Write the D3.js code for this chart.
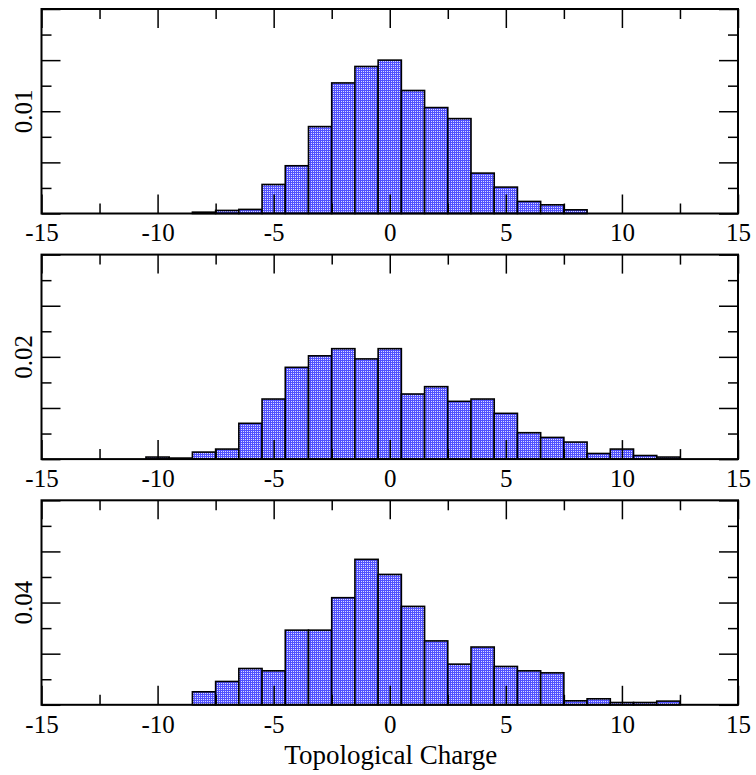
<!DOCTYPE html>
<html>
<head>
<meta charset="utf-8">
<script src="https://cdn.jsdelivr.net/npm/d3@7"></script>
<style>
html, body { margin: 0; padding: 0; background: #fff; }
svg { display: block; }
svg text { font-family: "Liberation Serif", "Times New Roman", Times, serif; }
</style>
</head>
<body>
<svg id="chart" width="756" height="775"></svg>
<script>
// ---- data ----
const charge1 = [-8,-7,-6,-5,-4,-3,-2,-1,0,1,2,3,4,5,6,7,8];
const dens1   = [0.00013,0.0003,0.0004,0.00284,0.00467,0.0085,0.01277,0.01438,0.0150,0.01203,0.01036,0.00928,0.00395,0.00258,0.00118,0.00085,0.00036];

const charge2 = [-10,-9,-8,-7,-6,-5,-4,-3,-2,-1,0,1,2,3,4,5,6,7,8,9,10,11,12];
const dens2   = [0.0004,0.0002,0.00137,0.00196,0.0070,0.01175,0.01795,0.0202,0.0216,0.0196,0.0216,0.01273,0.01417,0.0113,0.01175,0.00895,0.00516,0.00424,0.00333,0.0011,0.00196,0.0007,0.0004];

const charge3 = [-8,-7,-6,-5,-4,-3,-2,-1,0,1,2,3,4,5,6,7,8,9,10,11,12];
const dens3   = [0.00509,0.00913,0.0142,0.0133,0.0292,0.0292,0.0419,0.0569,0.051,0.0385,0.025,0.0159,0.0226,0.015,0.0133,0.0125,0.00156,0.00235,0.0009,0.0009,0.00144];

const yMax1 = 0.02, yMax2 = 0.04, yMax3 = 0.08;
const yLabel1 = [0.01], yLabel2 = [0.02], yLabel3 = [0.04];
const xMajorTicks = [-15,-10,-5,0,5,10,15];
const xMinorTicks = [-12.5,-7.5,-2.5,2.5,7.5,12.5];
const xTitle = "Topological Charge";

// ---- layout ----
const svg = d3.select("#chart");
const FONT = "'Liberation Serif','Times New Roman',Times,serif";
const left = 41.5, right = 738;
const panelH = 204.5;
const panelTops = [9, 254.6, 500.3];

const defs = svg.append("defs");
const pat = defs.append("pattern")
  .attr("id", "dots").attr("patternUnits", "userSpaceOnUse")
  .attr("width", 2).attr("height", 2);
pat.append("rect").attr("width", 2).attr("height", 2).attr("fill", "#5252ff").attr("shape-rendering","crispEdges");
pat.append("rect").attr("x", 1).attr("y", 1).attr("width", 1).attr("height", 1).attr("fill", "#dcdcff").attr("shape-rendering","crispEdges");

const x = d3.scaleLinear().domain([-15, 15]).range([left, right]);

const panels = [
  {charge: charge1, dens: dens1, yMax: yMax1, labels: yLabel1},
  {charge: charge2, dens: dens2, yMax: yMax2, labels: yLabel2},
  {charge: charge3, dens: dens3, yMax: yMax3, labels: yLabel3}
];

panels.forEach((p, i) => {
  const top = panelTops[i], bottom = top + panelH;
  const y = d3.scaleLinear().domain([0, p.yMax]).range([bottom, top]);
  const g = svg.append("g");

  // bars
  g.selectAll("rect.bar").data(p.charge.map((c, k) => ({c, v: p.dens[k]})))
    .enter().append("rect")
    .attr("class", "bar")
    .attr("x", d => x(d.c - 0.5))
    .attr("width", d => x(d.c + 0.5) - x(d.c - 0.5))
    .attr("y", d => y(d.v))
    .attr("height", d => y(0) - y(d.v))
    .attr("fill", "url(#dots)")
    .attr("stroke", "#000")
    .attr("stroke-width", 1.6);

  const yMajor = d3.range(0, 5).map(k => k * p.yMax / 4);
  const yMinor = d3.range(0, 4).map(k => (k + 0.5) * p.yMax / 4);

  const styleAxis = sel => {
    sel.attr("font-family", null);
    sel.select(".domain").remove();
    sel.selectAll(".tick line").attr("stroke", "#000").attr("stroke-width", 1.5);
    sel.selectAll(".tick text")
      .style("font-family", FONT).style("font-size", "25px").attr("fill", "#000");
  };

  // bottom x axis with labels
  g.append("g").attr("transform", `translate(0,${bottom})`)
    .call(d3.axisBottom(x).tickValues(xMajorTicks).tickSizeInner(-19).tickSizeOuter(0).tickPadding(10).tickFormat(d => String(d)))
    .call(styleAxis);
  g.append("g").attr("transform", `translate(0,${bottom})`)
    .call(d3.axisBottom(x).tickValues(xMinorTicks).tickSizeInner(-10).tickSizeOuter(0).tickFormat(""))
    .call(styleAxis);
  // top x axis
  g.append("g").attr("transform", `translate(0,${top})`)
    .call(d3.axisTop(x).tickValues(xMajorTicks).tickSizeInner(-19).tickSizeOuter(0).tickFormat(""))
    .call(styleAxis);
  g.append("g").attr("transform", `translate(0,${top})`)
    .call(d3.axisTop(x).tickValues(xMinorTicks).tickSizeInner(-10).tickSizeOuter(0).tickFormat(""))
    .call(styleAxis);
  // left / right y axes
  g.append("g").attr("transform", `translate(${left},0)`)
    .call(d3.axisLeft(y).tickValues(yMajor).tickSizeInner(-19).tickSizeOuter(0).tickFormat(""))
    .call(styleAxis);
  g.append("g").attr("transform", `translate(${left},0)`)
    .call(d3.axisLeft(y).tickValues(yMinor).tickSizeInner(-10).tickSizeOuter(0).tickFormat(""))
    .call(styleAxis);
  g.append("g").attr("transform", `translate(${right},0)`)
    .call(d3.axisRight(y).tickValues(yMajor).tickSizeInner(-19).tickSizeOuter(0).tickFormat(""))
    .call(styleAxis);
  g.append("g").attr("transform", `translate(${right},0)`)
    .call(d3.axisRight(y).tickValues(yMinor).tickSizeInner(-10).tickSizeOuter(0).tickFormat(""))
    .call(styleAxis);

  // rotated y label
  g.selectAll("text.ylab").data(p.labels).enter().append("text")
    .attr("class", "ylab")
    .attr("transform", d => `translate(31.5,${y(d)}) rotate(-90)`)
    .attr("text-anchor", "middle")
    .style("font-family", FONT).style("font-size", "25px").attr("fill", "#000")
    .text(d => String(d));

  // frame
  g.append("rect")
    .attr("x", left).attr("y", top)
    .attr("width", right - left).attr("height", panelH)
    .attr("fill", "none").attr("stroke", "#000").attr("stroke-width", 2);
});

svg.append("text")
  .attr("x", (left + right) / 2 + 1).attr("y", 764)
  .attr("text-anchor", "middle")
  .style("font-family", FONT).style("font-size", "27px").attr("fill", "#000")
  .text(xTitle);
</script>
</body>
</html>
